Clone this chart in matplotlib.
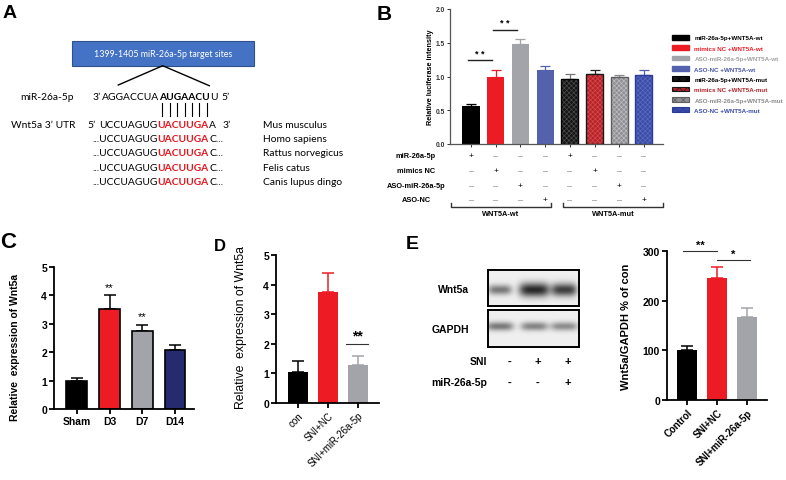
import matplotlib
matplotlib.use('Agg')
import matplotlib.pyplot as plt
import numpy as np
import matplotlib.transforms as mtransforms
from matplotlib.patches import Patch, Rectangle

plt.rcParams['font.family'] = ['Liberation Sans', 'DejaVu Sans']
plt.rcParams['hatch.linewidth'] = 0.5

# ---------------- data ----------------
# Panel B
b_labels = ['miR-26a-5p+WNT5A-wt', 'mimics NC +WNT5A-wt', 'ASO-miR-26a-5p+WNT5A-wt', 'ASO-NC +WNT5A-wt',
            'miR-26a-5p+WNT5A-mut', 'mimics NC +WNT5A-mut', 'ASO-miR-26a-5p+WNT5A-mut', 'ASO-NC +WNT5A-mut']
b_values = [0.57, 1.00, 1.48, 1.09, 0.96, 1.03, 0.99, 1.02]
b_errors = [0.03, 0.09, 0.08, 0.06, 0.07, 0.06, 0.03, 0.07]
b_treatment_names = ['miR-26a-5p', 'mimics NC', 'ASO-miR-26a-5p', 'ASO-NC']
b_treatment_index = [0, 1, 2, 3, 0, 1, 2, 3]
b_groups = ['WNT5A-wt', 'WNT5A-mut']
b_group_members = [[0, 1, 2, 3], [4, 5, 6, 7]]
b_sig_pairs = [(0, 1), (1, 2)]
b_sig_heights = [1.24, 1.69]

# Panel C
c_categories = ['Sham', 'D3', 'D7', 'D14']
c_values = [1.00, 3.52, 2.76, 2.09]
c_errors = [0.08, 0.49, 0.21, 0.15]
c_stars = ['', '**', '**', '']

# Panel D
d_categories = ['con', 'SNI+NC', 'SNI+miR-26a-5p']
d_values = [1.05, 3.76, 1.30]
d_errors = [0.38, 0.63, 0.30]

# Panel E (bar chart)
e_categories = ['Control', 'SNI+NC', 'SNI+miR-26a-5p']
e_values = [100, 245, 167]
e_errors = [9, 22, 18]

# Panel E (blot)
blot_rows = ['Wnt5a', 'GAPDH']
blot_intensity = [[0.55, 0.92, 0.82], [0.55, 0.50, 0.46]]
blot_sni = ['-', '+', '+']
blot_mir = ['-', '-', '+']

# Panel A
species = ['Mus musculus', 'Homo sapiens', 'Rattus norvegicus', 'Felis catus', 'Canis lupus dingo']

# ---------------- layout helpers ----------------
W, H = 786, 481
fig = plt.figure(figsize=(W / 100, H / 100), dpi=100)
ov = fig.add_axes([0, 0, 1, 1])
ov.set_xlim(0, W)
ov.set_ylim(H, 0)
ov.axis('off')
renderer = fig.canvas.get_renderer()


def px_axes(l, t, r, b):
    return fig.add_axes([l / W, 1 - b / H, (r - l) / W, (b - t) / H])


RED = '#ED1C24'
GRAY = '#A3A3AA'
BLUE = '#5461AD'
NAVY = '#262A6E'

# ---------------- panel letters ----------------
for s, x, y, fs in [('A', 9.5, 14, 14), ('B', 384, 14.5, 15), ('C', 8, 243, 16),
                    ('D', 220, 247, 12), ('E', 412, 244.5, 14)]:
    ov.text(x, y, s, fontsize=fs, fontweight='bold', ha='center', va='center')

# ---------------- Panel A ----------------
AF = 'Lato'
AS = 7.4
ov.add_patch(Rectangle((71.7, 42), 182.3, 24.7, facecolor='#4472C4', edgecolor='#2F528F', lw=0.8))
ov.text(163, 54.5, '1399-1405 miR-26a-5p target sites', color='white', fontsize=6.4,
        family=AF, ha='center', va='center')
ov.plot([118.3, 162.7, 209.3], [86, 66.7, 86.7], color='black', lw=1.0)


def chain_after(t, y, parts):
    bb = t.get_window_extent(renderer)
    x = ov.transData.inverted().transform((bb.x1, bb.y0))[0] + 0.4
    for s, c, w in parts:
        t = ov.text(x, y, s, color=c, fontweight=w, fontsize=AS, family=AF, ha='left', va='baseline')
        bb = t.get_window_extent(renderer)
        x = ov.transData.inverted().transform((bb.x1, bb.y0))[0] + 0.4
    return t


cap = 3.7
y1 = 96.7 + cap
ov.text(20, y1, 'miR-26a-5p', fontsize=AS, family=AF, va='baseline')
ov.text(92.7, y1, '3\u2019', fontsize=AS, family=AF, va='baseline')
ov.text(159.3, y1, 'AGGACCUA', fontsize=AS, family=AF, va='baseline', ha='right')
tb = ov.text(159.3, y1, 'AUGAACU', fontsize=AS, family=AF, va='baseline', ha='left', fontweight='bold')
chain_after(tb, y1, [('U', 'black', 'normal')])
ov.text(221, y1, '5\u2019', fontsize=AS, family=AF, va='baseline')

pair_x = np.linspace(162.3, 206.7, 7)
for px in pair_x:
    ov.plot([px, px], [104, 116.7], color='black', lw=0.8)

line_y = [124.3 + 14.2 * k for k in range(5)]
for k, yy in enumerate(line_y):
    yb = yy + cap
    if k == 0:
        ov.text(10.7, yb, 'Wnt5a 3\u2019 UTR', fontsize=AS, family=AF, va='baseline')
        ov.text(87, yb, '5\u2019', fontsize=AS, family=AF, va='baseline')
        ov.text(157.7, yb, 'UCCUAGUG', fontsize=AS, family=AF, va='baseline', ha='right')
        tr = ov.text(157.7, yb, 'UACUUGA', fontsize=AS, family=AF, va='baseline', color='#E8141C',
                     fontweight='bold')
        chain_after(tr, yb, [('A', 'black', 'normal')])
        ov.text(222.7, yb, '3\u2019', fontsize=AS, family=AF, va='baseline')
    else:
        ov.text(157.7, yb, '...UCCUAGUG', fontsize=AS, family=AF, va='baseline', ha='right')
        tr = ov.text(157.7, yb, 'UACUUGA', fontsize=AS, family=AF, va='baseline', color='#E8141C',
                     fontweight='bold')
        chain_after(tr, yb, [('C...', 'black', 'normal')])
    ov.text(263, yb, species[k], fontsize=AS, family=AF, va='baseline')

# ---------------- Panel B ----------------
axB = px_axes(450, 10, 663, 145)
xB = np.arange(len(b_values))
bw = 0.69
b_face = ['#000000', RED, GRAY, BLUE, '#141414', '#B3242A', '#8F8F94', '#3A4CA8']
b_hatch = [None, None, None, None, '#4A4A4A', '#D9474D', '#BDBDC2', '#5A6BC0']
b_edge = [None, None, None, None, '#000000', '#1A1A1A', '#5E5E5E', '#2B3C96']
b_ecol = ['#000000', RED, GRAY, BLUE, '#777777', '#222222', '#888888', BLUE]
b_text_col = ['#000000', RED, '#A0A0A0', '#4A57A8', '#000000', '#B3242A', '#8A8A8A', '#3A4CA8']

for i in range(len(b_values)):
    axB.errorbar(xB[i], b_values[i], yerr=[[0], [b_errors[i]]], color=b_ecol[i],
                 capsize=3.5, lw=0.9, capthick=0.9, zorder=1)
for i in range(4):
    axB.bar(xB[i], b_values[i], width=bw, color=b_face[i], zorder=2)
for i in range(4, 8):
    axB.bar(xB[i], b_values[i], width=bw, color=b_face[i], edgecolor=b_hatch[i],
            hatch='xxxxxxx', linewidth=0, zorder=2)
    axB.bar(xB[i], b_values[i], width=bw, fill=False, edgecolor=b_edge[i], linewidth=1.0, zorder=3)

axB.set_xlim(-0.85, 7.77)
axB.set_ylim(0, 2.0)
axB.set_yticks([0, 0.5, 1.0, 1.5, 2.0])
axB.set_yticklabels(['0.0', '0.5', '1.0', '1.5', '2.0'])
axB.set_xticks(xB)
axB.set_xticklabels([])
axB.tick_params(axis='y', labelsize=4.8, length=2.5, width=0.7, pad=1, colors='#333333')
axB.tick_params(axis='x', length=2.5, width=0.7, colors='#333333')
for lab in axB.get_yticklabels():
    lab.set_fontweight('bold')
for sp in ['top', 'right']:
    axB.spines[sp].set_visible(False)
for sp in ['left', 'bottom']:
    axB.spines[sp].set_color('#555555')
    axB.spines[sp].set_linewidth(0.9)
axB.set_ylabel('Relative luciferase intensity', fontsize=5.2, fontweight='bold')
axB.yaxis.set_label_coords(-0.075, 0.5)

for (a, b), h in zip(b_sig_pairs, b_sig_heights):
    axB.plot([xB[a] - 0.12, xB[b] - 0.15], [h, h], color='#222222', lw=1.0)
    axB.text((xB[a] + xB[b]) / 2 - 0.13, h + 0.04, '* *', fontsize=6.5, fontweight='bold',
             ha='center', va='bottom')

transB = mtransforms.blended_transform_factory(axB.transData, ov.transData)
row_y = [157, 172, 187, 201]
for r, name in enumerate(b_treatment_names):
    ov.text(416, row_y[r], name, fontsize=5.3, fontweight='bold', ha='center', va='center')
    for i in range(len(b_values)):
        if b_treatment_index[i] == r:
            axB.text(xB[i], row_y[r], '+', transform=transB, fontsize=6, ha='center',
                     va='center', clip_on=False)
        else:
            axB.text(xB[i], row_y[r], '\u2013', transform=transB, fontsize=6.5, ha='center',
                     va='center', color='#888888', clip_on=False)

group_pad = [(0.81, 0.24), (0.28, 0.77)]
for g, members in enumerate(b_group_members):
    x0 = xB[members[0]] - group_pad[g][0]
    x1 = xB[members[-1]] + group_pad[g][1]
    axB.plot([x0, x0, x1, x1], [204, 207.5, 207.5, 204], transform=transB, color='#333333',
             lw=1.0, clip_on=False)
    axB.text((x0 + x1) / 2, 215, b_groups[g], transform=transB, fontsize=5.3, fontweight='bold',
             ha='center', va='center', clip_on=False)

handles = []
for i in range(len(b_values)):
    if b_hatch[i] is None:
        handles.append(Patch(facecolor=b_face[i], edgecolor=b_face[i]))
    else:
        handles.append(Patch(facecolor=b_face[i], edgecolor=b_edge[i], hatch='xxxx', lw=0.8))
leg = axB.legend(handles, b_labels, loc='upper left', bbox_to_anchor=(672 / W, 1 - 36 / H),
                 bbox_transform=fig.transFigure, frameon=False, fontsize=4.5, borderpad=0,
                 handlelength=2.7, handleheight=0.75, handletextpad=0.9, labelspacing=0.78,
                 borderaxespad=0, labelcolor=b_text_col)
for t in leg.get_texts():
    t.set_fontweight('bold')

# ---------------- Panel C ----------------
def style_axis(ax, lw=1.3):
    for sp in ['top', 'right']:
        ax.spines[sp].set_visible(False)
    for sp in ['left', 'bottom']:
        ax.spines[sp].set_linewidth(lw)
    ax.tick_params(length=3.5, width=lw, pad=1.5)


axC = px_axes(54, 268, 194, 410)
xC = np.arange(len(c_values))
c_colors = ['#000000', RED, GRAY, NAVY]
for i in range(len(c_values)):
    axC.errorbar(xC[i], c_values[i], yerr=[[0], [c_errors[i]]], color='black', capsize=4,
                 lw=1.1, capthick=1.1, zorder=1)
axC.bar(xC, c_values, width=0.64, color=c_colors, edgecolor='black', linewidth=1.2, zorder=2)
for i, s in enumerate(c_stars):
    if s:
        axC.text(xC[i], c_values[i] + c_errors[i] + 0.12, s, fontsize=8, ha='center', va='bottom')
axC.set_xlim(-0.70, 3.58)
axC.set_ylim(0, 5)
axC.set_yticks(range(6))
axC.set_xticks(xC)
axC.set_xticklabels(c_categories)
style_axis(axC)
axC.tick_params(labelsize=7.5)
for lab in axC.get_xticklabels() + axC.get_yticklabels():
    lab.set_fontweight('bold')
axC.set_ylabel('Relative  expression of Wnt5a', fontsize=7.5, fontweight='bold')
axC.yaxis.set_label_coords(-0.24, 0.44)

# ---------------- Panel D ----------------
axD = px_axes(276, 256, 379, 404)
xD = np.arange(len(d_values))
d_colors = ['#000000', RED, GRAY]
for i in range(len(d_values)):
    axD.errorbar(xD[i], d_values[i], yerr=[[0], [d_errors[i]]], color=d_colors[i], capsize=4,
                 lw=1.1, capthick=1.1, zorder=1)
axD.bar(xD, d_values, width=0.67, color=d_colors, zorder=2)
axD.plot([xD[2] - 0.4, xD[2] + 0.33], [2.0, 2.0], color='#333333', lw=0.8)
axD.text(xD[2] - 0.03, 2.05, '**', fontsize=10, fontweight='bold', ha='center', va='bottom')
axD.set_xlim(-0.73, 2.7)
axD.set_ylim(0, 5)
axD.set_yticks(range(6))
axD.set_xticks(xD)
axD.set_xticklabels(d_categories, rotation=45, ha='right', rotation_mode='anchor', fontsize=7)
style_axis(axD)
axD.tick_params(axis='y', labelsize=7.5)
for lab in axD.get_yticklabels():
    lab.set_fontweight('bold')
axD.set_ylabel('Relative  expression of Wnt5a', fontsize=8.8)
axD.yaxis.set_label_coords(-0.28, 0.52)

# ---------------- Panel E blot ----------------
box_tops = [271, 311]
box_bottoms = [307, 348]
lane_x = [0.13, 0.51, 0.84]
band_y = [0.55, 0.44]
band_halfw = [[0.13, 0.17, 0.14], [0.15, 0.15, 0.15]]
band_sig = [[0.10, 0.14, 0.13], [0.085, 0.085, 0.085]]
for r in range(2):
    axb = px_axes(488, box_tops[r], 579, box_bottoms[r])
    nx, ny = 182, 74
    xx = np.linspace(0, 1, nx)[None, :]
    yy = np.linspace(0, 1, ny)[:, None]
    img = np.full((ny, nx), 0.94)
    for j in range(3):
        prof_x = np.exp(-((xx - lane_x[j]) / band_halfw[r][j]) ** 4)
        prof_y = np.exp(-0.5 * ((yy - band_y[r]) / band_sig[r][j]) ** 2)
        img = img - blot_intensity[r][j] * 0.85 * prof_x * prof_y
    axb.imshow(np.clip(img, 0, 1), cmap='gray', vmin=0, vmax=1, aspect='auto',
               extent=[0, 1, 1, 0], interpolation='bilinear')
    axb.set_xticks([])
    axb.set_yticks([])
    for sp in axb.spines.values():
        sp.set_linewidth(1.4)
    ov.text(469, (box_tops[r] + box_bottoms[r]) / 2 + 1, blot_rows[r], fontsize=7.5,
            fontweight='bold', ha='right', va='center')

sign_x = [509, 538, 568]
ov.text(487, 362, 'SNI', fontsize=7.5, fontweight='bold', ha='right', va='center')
ov.text(487, 383, 'miR-26a-5p', fontsize=7.5, fontweight='bold', ha='right', va='center')
for j in range(3):
    ov.text(sign_x[j], 362, blot_sni[j], fontsize=8, fontweight='bold', ha='center', va='center')
    ov.text(sign_x[j], 383, blot_mir[j], fontsize=8, fontweight='bold', ha='center', va='center')

# ---------------- Panel E bar chart ----------------
axE = px_axes(667, 252, 767, 401)
xE = np.arange(len(e_values))
e_colors = ['#000000', RED, GRAY]
for i in range(len(e_values)):
    axE.errorbar(xE[i], e_values[i], yerr=[[0], [e_errors[i]]], color=e_colors[i], capsize=4,
                 lw=1.1, capthick=1.1, zorder=1)
axE.bar(xE, e_values, width=0.67, color=e_colors, zorder=2)
axE.plot([xE[0] - 0.13, xE[1]], [300, 300], color='#333333', lw=0.8, clip_on=False)
axE.text((xE[0] - 0.13 + xE[1]) / 2, 303, '**', fontsize=8, fontweight='bold', ha='center',
         va='bottom', clip_on=False)
axE.plot([xE[1], xE[2] + 0.1], [282, 282], color='#333333', lw=0.8)
axE.text((xE[1] + xE[2] + 0.1) / 2, 285, '*', fontsize=8, fontweight='bold', ha='center',
         va='bottom')
axE.set_xlim(-0.67, 2.67)
axE.set_ylim(0, 300)
axE.set_yticks([0, 100, 200, 300])
axE.set_xticks(xE)
axE.set_xticklabels(e_categories, rotation=45, ha='right', rotation_mode='anchor', fontsize=7)
style_axis(axE)
axE.tick_params(axis='y', labelsize=7.5)
for lab in axE.get_yticklabels() + axE.get_xticklabels():
    lab.set_fontweight('bold')
axE.set_ylabel('Wnt5a/GAPDH % of con', fontsize=8, fontweight='bold')
axE.yaxis.set_label_coords(-0.36, 0.5)

fig.savefig('out.png', dpi=100)
